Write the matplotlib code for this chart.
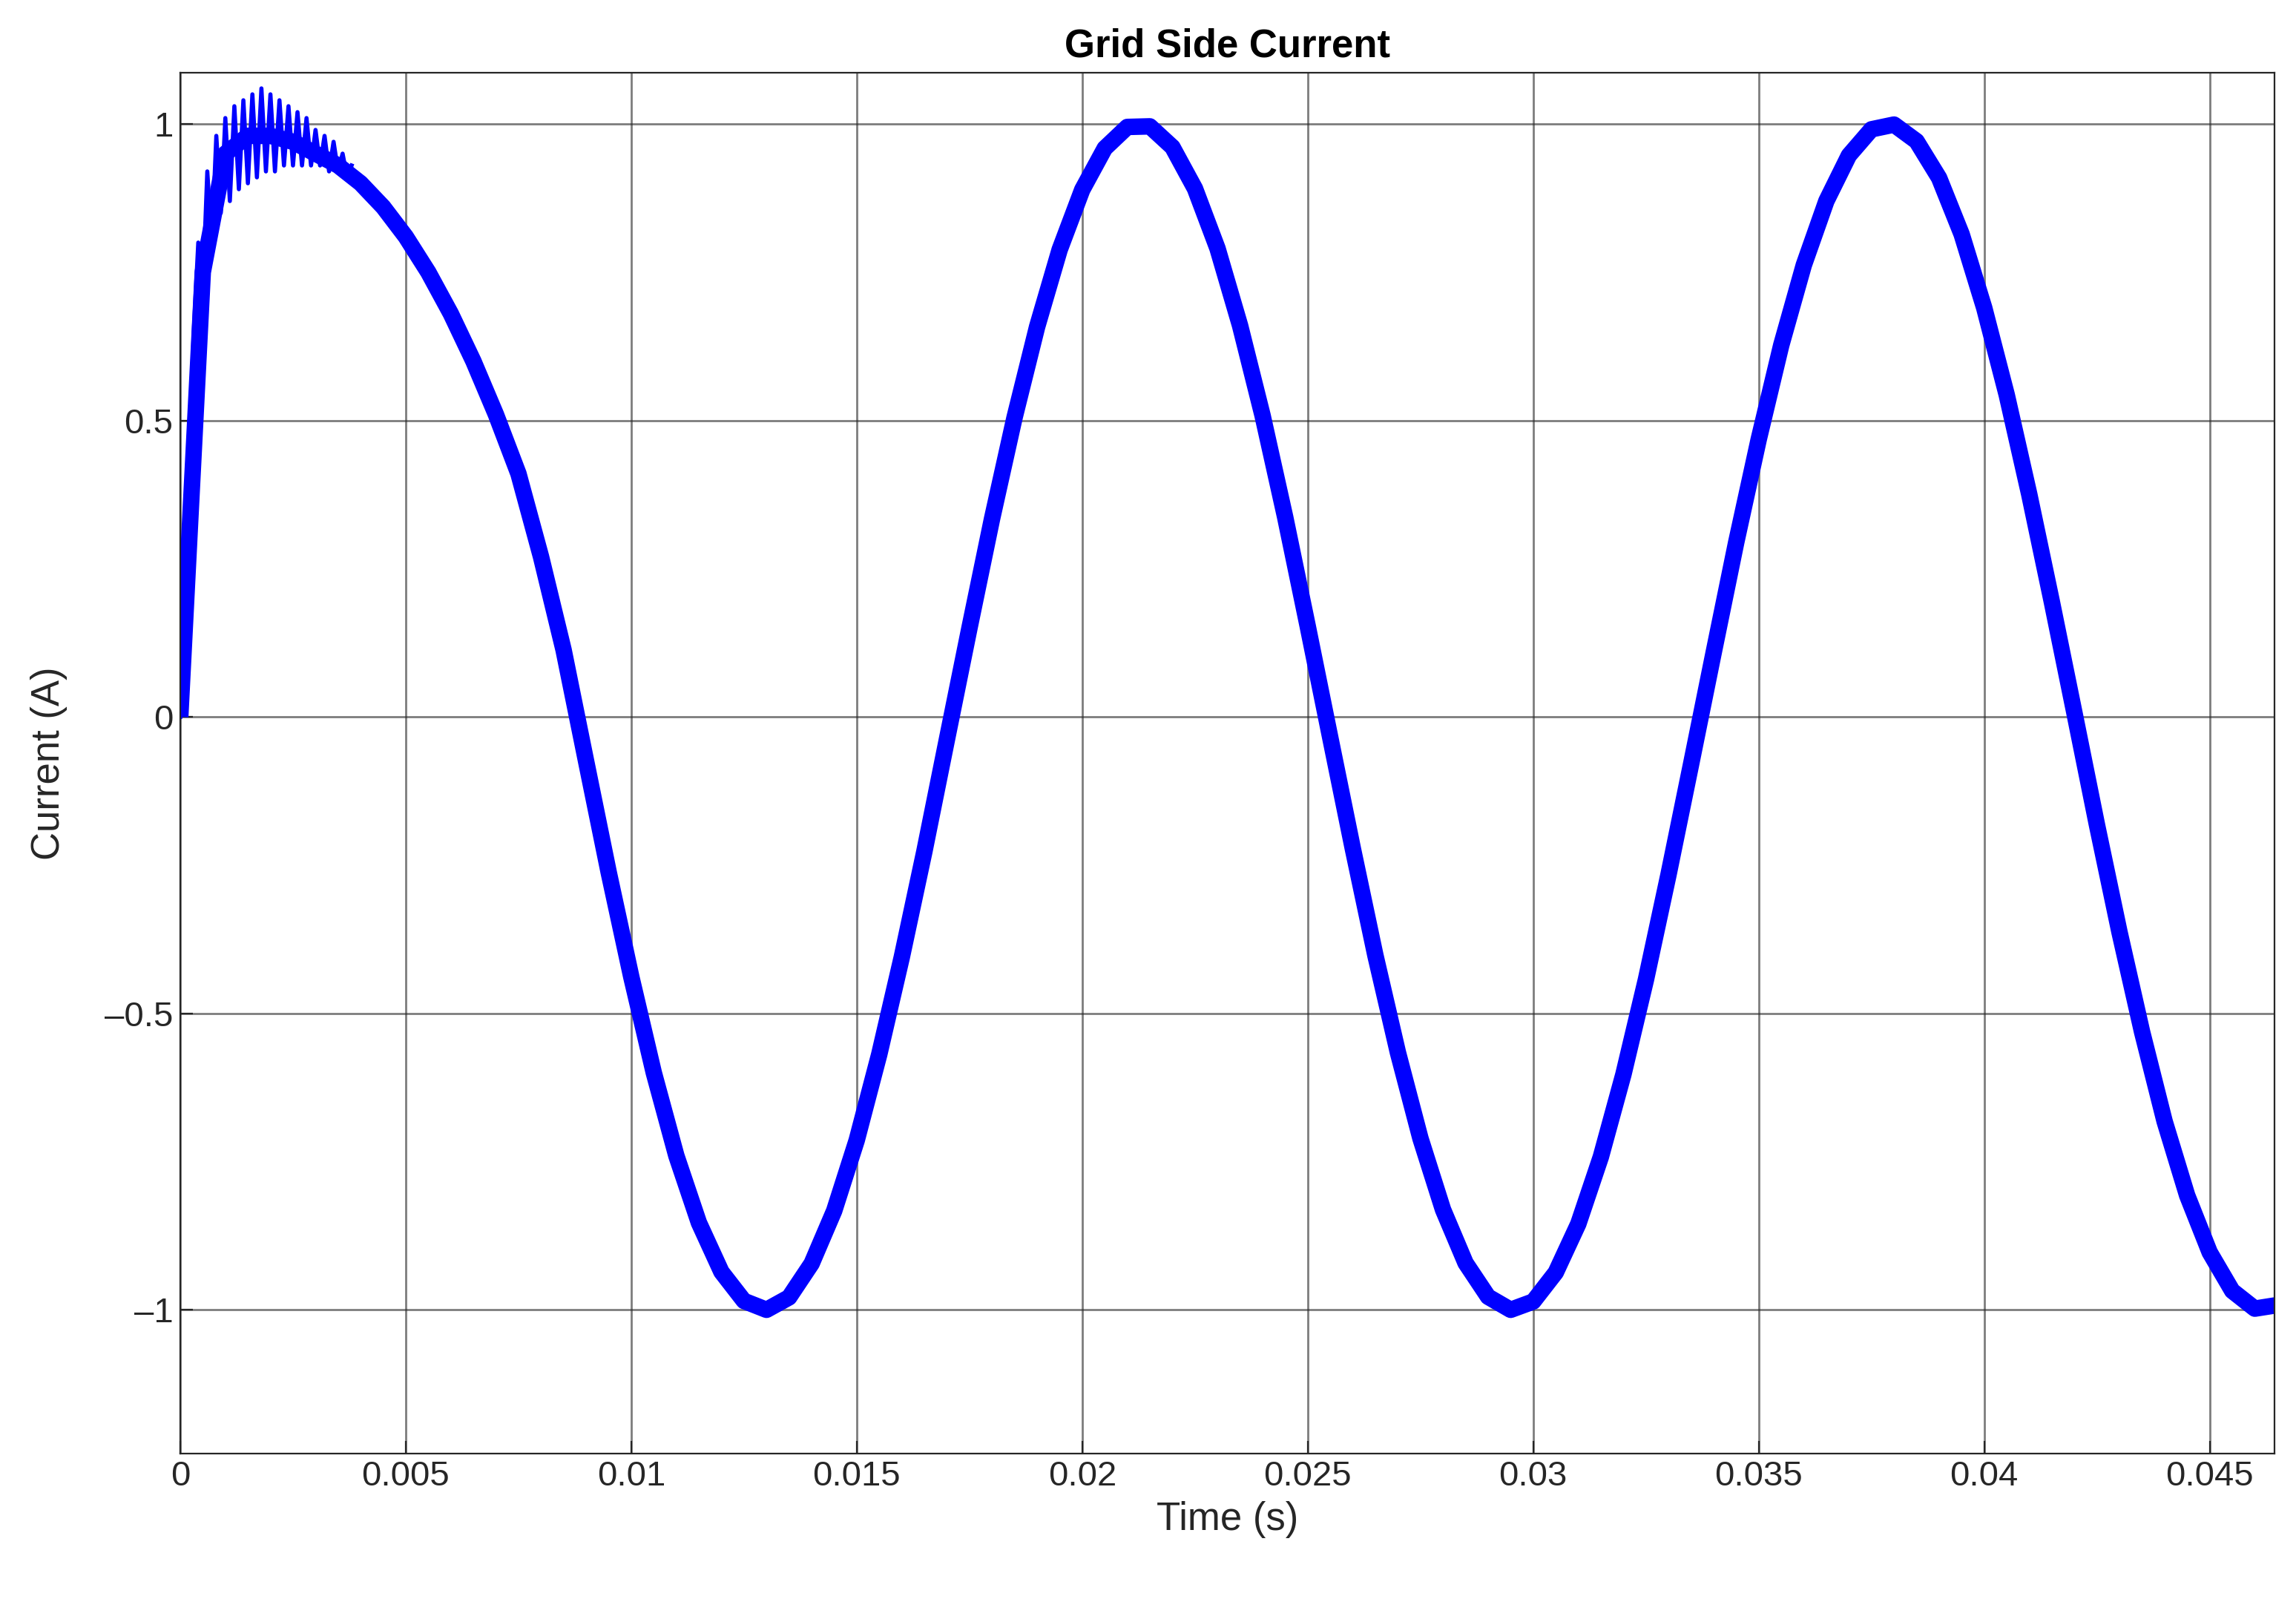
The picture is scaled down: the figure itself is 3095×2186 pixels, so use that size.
import numpy as np
import matplotlib
matplotlib.use("Agg")
import matplotlib.pyplot as plt

plt.rcParams['font.family'] = ['Liberation Sans', 'DejaVu Sans']

# centre of the current band, sampled every 0.5 ms
t_start = [0, 0.0005, 0.001, 0.0015, 0.002, 0.0025, 0.003, 0.0035, 0.004, 0.0045,
           0.005, 0.0055, 0.006, 0.0065, 0.007, 0.0075, 0.008]
i_start = [0, 0.75, 0.95, 0.98, 0.98, 0.97, 0.95, 0.93, 0.9, 0.86,
           0.81, 0.75, 0.68, 0.6, 0.51, 0.41, 0.27]
i_main = [0.113, -0.075, -0.262, -0.438, -0.600, -0.740, -0.853, -0.936, -0.985, -1.000,
          -0.979, -0.922, -0.833, -0.714, -0.569, -0.405, -0.227, -0.038, 0.150, 0.334,
          0.505, 0.658, 0.788, 0.889, 0.959, 0.995, 0.996, 0.961, 0.891, 0.790,
          0.660, 0.508, 0.337, 0.153, -0.035, -0.222, -0.402, -0.566, -0.711, -0.831,
          -0.921, -0.978, -1.000, -0.986, -0.937, -0.855, -0.742, -0.603, -0.443, -0.266,
          -0.080, 0.108, 0.294, 0.468, 0.627, 0.762, 0.870, 0.947, 0.991, 0.999,
          0.971, 0.909, 0.814, 0.690, 0.543, 0.375, 0.194, 0.007, -0.182, -0.363,
          -0.531, -0.682, -0.807, -0.903, -0.968, -0.998, -0.992]
t_main = [0.0085 + 0.0005 * k for k in range(len(i_main))]

# start-up switching ripple
t_rip = [0.0000, 0.0002, 0.0003, 0.0004, 0.0005, 0.0006, 0.0007, 0.0008, 0.0009, 0.0010,
         0.0011, 0.0012, 0.0013, 0.0014, 0.0015, 0.0016, 0.0017, 0.0018, 0.0019, 0.0020,
         0.0021, 0.0022, 0.0023, 0.0024, 0.0025, 0.0026, 0.0027, 0.0028, 0.0029, 0.0030,
         0.0031, 0.0032, 0.0033, 0.0034, 0.0035, 0.0036, 0.0037, 0.0038]
i_rip = [0.0, 0.45, 0.65, 0.80, 0.72, 0.92, 0.80, 0.98, 0.85, 1.01,
         0.87, 1.03, 0.89, 1.04, 0.90, 1.05, 0.91, 1.06, 0.92, 1.05,
         0.92, 1.04, 0.93, 1.03, 0.93, 1.02, 0.93, 1.01, 0.93, 0.99,
         0.93, 0.98, 0.92, 0.97, 0.92, 0.95, 0.91, 0.93]

t_all = t_start + t_main
i_all = i_start + i_main

x_ticks = [0, 0.005, 0.01, 0.015, 0.02, 0.025, 0.03, 0.035, 0.04, 0.045]
x_labels = ['0', '0.005', '0.01', '0.015', '0.02', '0.025', '0.03', '0.035', '0.04', '0.045']
y_ticks = [-1, -0.5, 0, 0.5, 1]
y_labels = ['\u20131', '\u20130.5', '0', '0.5', '1']

fig = plt.figure(figsize=(15.475, 10.93), dpi=200)
ax = fig.add_axes([0.0785, 0.104, 0.912, 0.851])
ax.plot(t_all, i_all, color='#0000ff', lw=8, solid_joinstyle='round', solid_capstyle='butt')
ax.plot(t_rip, i_rip, color='#0000ff', lw=2)
ax.set_xlim(0, 0.04643)
ax.set_ylim(-1.242, 1.086)
ax.set_xticks(x_ticks)
ax.set_xticklabels(x_labels)
ax.set_yticks(y_ticks)
ax.set_yticklabels(y_labels)
ax.grid(True, color='#262626', lw=1.0, alpha=0.6)
ax.tick_params(labelsize=17, colors='#262626', direction='in', length=6)
for s in ax.spines.values():
    s.set_color('#262626')
ax.set_xlabel('Time (s)', fontsize=19, color='#262626')
ax.set_ylabel('Current (A)', fontsize=19, color='#262626', labelpad=18)
ax.set_title('Grid Side Current', fontsize=19, fontweight='bold', pad=8)
fig.savefig('out.png', dpi=200)
